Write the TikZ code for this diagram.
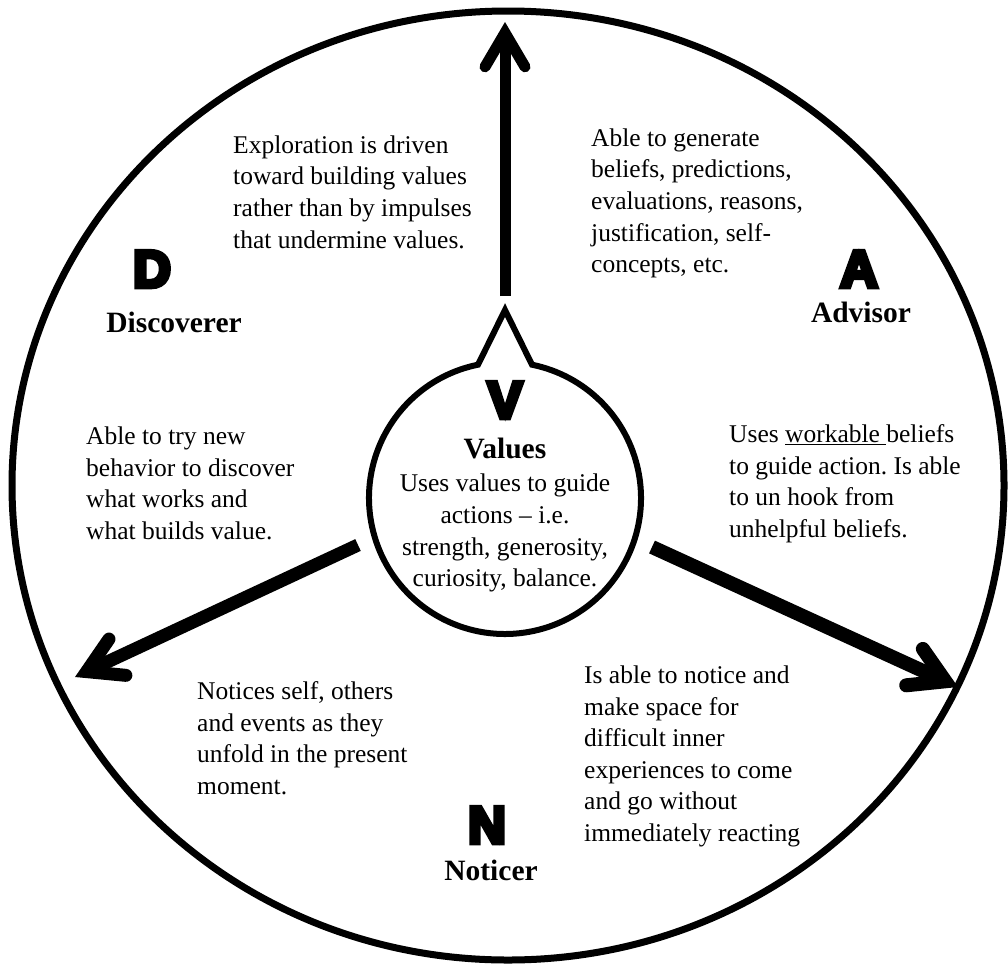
\documentclass[tikz,border=0pt]{standalone}
\usepackage{fontspec}
\setmainfont{Liberation Serif}
\newfontfamily\heavy{Liberation Sans}[BoldFeatures={FakeBold=9}]
\usetikzlibrary{arrows.meta}
\frenchspacing
\begin{document}
\begin{tikzpicture}[x=1pt,y=-1pt,
  body/.style={font=\fontsize{25.5}{31.6}\selectfont\frenchspacing, align=left, anchor=north west, inner sep=0pt},
  big/.style={font=\fontsize{52}{60}\selectfont\heavy\bfseries, anchor=base, inner sep=0pt},
  lab/.style={font=\fontsize{29.5}{32}\selectfont\bfseries, anchor=base, inner sep=0pt},
  arr/.style={line width=#1, -{Straight Barb[length=34pt,width=40pt,line cap=round,line join=miter]}},
  rim/.style={line width=7pt},
  core/.style={line width=6pt, line join=miter},
]
\useasboundingbox (0,0) rectangle (1008,964);
% outer ellipse
\draw[rim] (508,485.5) ellipse [x radius=496, y radius=474.5];
% inner circle with spike
\coordinate (Vtip) at (505,310);
\draw[core] (Vtip) -- (478,364.7) arc[start angle=258.55, end angle=-78.55, radius=136] -- cycle;
% arrows
\coordinate (upS) at (505,296); \coordinate (upE) at (505,22);
\coordinate (llS) at (358,545); \coordinate (llE) at (75,677);
\coordinate (lrS) at (652,547); \coordinate (lrE) at (958,687);
\draw[arr=11pt] (upS) -- (upE);
\draw[arr=13pt] (llS) -- (llE);
\draw[arr=14pt] (lrS) -- (lrE);
% big letters and labels
\node[big] (D) at (152,287) {D};
\node[lab] (Dl) at (174,332) {Discoverer};
\node[big] (A) at (859,287) {A};
\node[lab] (Al) at (861,322) {Advisor};
\node[big] (V) at (505,418) {V};
\node[lab] (Vl) at (505,458) {Values};
\node[big] (N) at (487,843) {N};
\node[lab] (Nl) at (491,880) {Noticer};
% texts
\node[body, align=center, anchor=north] (vb) at (505,474) {Uses values to guide\\actions – i.e.\\strength, generosity,\\curiosity, balance.};
\node[body] (t1) at (233,135.5) {Exploration is driven\\toward building values\\rather than by impulses\\that undermine values.};
\node[body] (t2) at (591,128.5) {Able to generate\\beliefs, predictions,\\evaluations, reasons,\\justification, self-\\concepts, etc.};
\node[body] (t3) at (86,426.5) {Able to try new\\behavior to discover\\what works and\\what builds value.};
\node[body] (t4) at (729,424.5) {Uses \underline{workable\ }beliefs\\to guide action. Is able\\to un hook from\\unhelpful beliefs.};
\node[body] (t5) at (197,681.5) {Notices self, others\\and events as they\\unfold in the present\\moment.};
\node[body] (t6) at (584,665.5) {Is able to notice and\\make space for\\difficult inner\\experiences to come\\and go without\\immediately reacting};
\end{tikzpicture}
\end{document}
